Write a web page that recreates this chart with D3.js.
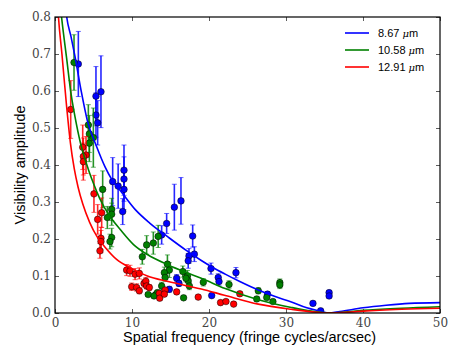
<!DOCTYPE html>
<html>
<head>
<meta http-equiv="Content-Type" content="text/html; charset=utf-8" />
<script src="https://cdn.jsdelivr.net/npm/d3@7"></script>
<title>Visibility</title>
<style>
  body { margin: 0; background: #fff; }
  .tick line { stroke: #333; stroke-width: 0.8; }
  .domain { display: none; }
</style>
</head>
<body>
<svg width="463" height="348" id="mainsvg"></svg>
<script>
// observed visibilities: [freq, vis, err]
const blueData = [
  [3.03,0.673,0.088],[5.32,0.586,0.08],[5.32,0.535,0.06],[5.54,0.514,0.06],[5.97,0.598,0.097],
  [7.49,0.355,0.065],[8.2,0.343,0.06],[8.96,0.386,0.068],[8.96,0.362,0.06],[8.96,0.334,0.055],
  [8.79,0.274,0.035],[13.85,0.211,0.025],[14.5,0.242,0.027],[15.5,0.286,0.062],[16.36,0.303,0.063],
  [17.88,0.208,0.03],[18.1,0.159,0.02],[17.4,0.154,0.02],[17.3,0.141,0.02],[15.8,0.094,0.01],
  [16.1,0.08,0.008],[14.85,0.064,0.008],[20.26,0.12,0.015],[21.2,0.096,0.01],[21.3,0.085,0.01],
  [20.35,0.047,0.006],[23.5,0.109,0.014],[27.6,0.051,0.006],[33.5,0.026,0.004],[35.6,0.055,0.005],
  [35.6,0.046,0.005],[34.5,0.006,0.003]
];
const greenData = [
  [2.47,0.677,0.075],[4.33,0.508,0.055],[4.46,0.484,0.05],[4.46,0.459,0.05],[4.98,0.474,0.08],
  [6.19,0.334,0.05],[7.36,0.28,0.03],[7.36,0.267,0.03],[6.8,0.258,0.03],[7.36,0.204,0.025],
  [7.14,0.193,0.02],[11.34,0.152,0.02],[11.9,0.184,0.025],[12.77,0.189,0.03],[13.4,0.207,0.03],
  [14.6,0.132,0.025],[14.85,0.116,0.02],[14.2,0.109,0.015],[14.3,0.096,0.01],[13.85,0.073,0.01],
  [16.6,0.112,0.015],[17.2,0.1,0.015],[17.3,0.087,0.012],[17.45,0.073,0.01],[17.0,0.094,0.01],
  [19.26,0.083,0.01],[16.7,0.041,0.005],[13.1,0.05,0.005],[12.1,0.05,0.005],[13.3,0.055,0.005],
  [12.86,0.046,0.005],[22.6,0.077,0.01],[26.4,0.06,0.008],[26.2,0.038,0.006],[27.5,0.042,0.006],
  [28.3,0.031,0.005],[29.2,0.082,0.01],[29.2,0.076,0.01]
];
const redData = [
  [2.04,0.55,0.078],[3.6,0.448,0.06],[4.03,0.427,0.05],[3.68,0.423,0.05],[3.68,0.409,0.05],
  [5.06,0.322,0.05],[5.54,0.253,0.04],[6.06,0.271,0.04],[5.97,0.202,0.03],[5.97,0.193,0.03],
  [5.84,0.168,0.02],[9.3,0.116,0.015],[9.74,0.114,0.015],[10.4,0.105,0.015],[10.95,0.107,0.015],
  [9.96,0.071,0.01],[10.6,0.069,0.01],[10.95,0.06,0.008],[11.56,0.08,0.01],[11.8,0.086,0.01],
  [11.9,0.073,0.008],[12.25,0.069,0.008],[13.55,0.053,0.006],[13.6,0.04,0.005],[14.3,0.062,0.006],
  [14.2,0.051,0.005],[15.8,0.057,0.006],[18.6,0.043,0.005],[21.5,0.028,0.004],[22.2,0.031,0.004],
  [23.2,0.024,0.004],[24.0,0.052,0.006]
];

// model curves: [freq, vis]
const blueCurve = [
  [1.3,0.84],[1.52,0.8],[2.1,0.745],[2.6,0.693],[3.4,0.6],[4.2,0.52],[5.4,0.45],[6.5,0.395],
  [7.4,0.36],[8.7,0.325],[10.4,0.28],[12.3,0.243],[14.7,0.205],[17,0.17],[19,0.142],[20.5,0.123],
  [22.1,0.105],[24,0.085],[26.4,0.062],[28.5,0.045],[30.7,0.03],[32.7,0.014],[34.2,0.006],[35.5,0],
  [37,0.004],[40,0.014],[43,0.021],[46,0.026],[50,0.028]
];
const greenCurve = [
  [0.6,0.85],[0.85,0.8],[1.5,0.69],[2.1,0.59],[2.6,0.53],[3.3,0.46],[4.3,0.39],[5.0,0.35],
  [5.8,0.31],[7.1,0.262],[8.5,0.225],[10.2,0.185],[12,0.158],[14.7,0.13],[17,0.11],[19,0.094],
  [22.1,0.066],[26.4,0.036],[30.7,0.015],[33.3,0.005],[35.5,0],[38,0.003],[40,0.007],[45,0.013],[50,0.017]
];
const redCurve = [
  [0.3,0.85],[0.45,0.8],[0.9,0.7],[1.5,0.56],[2.0,0.46],[2.5,0.39],[3.0,0.34],[3.6,0.295],
  [4.5,0.245],[5.5,0.205],[6.5,0.178],[8,0.145],[10,0.12],[12,0.1],[14.7,0.085],[17,0.074],
  [19,0.065],[22,0.048],[26.4,0.024],[30.7,0.01],[34,0.002],[35.5,0],[38,0.002],[40,0.005],
  [45,0.01],[50,0.013]
];

const xTicks = [0, 10, 20, 30, 40, 50];
const yTicks = [0, 0.1, 0.2, 0.3, 0.4, 0.5, 0.6, 0.7, 0.8];
const labels = ["8.67", "10.58", "12.91"];
const colors = ["#0000ff", "#008000", "#ff0000"];

const svg = d3.select("#mainsvg");
const margin = {left: 55, right: 23, top: 17, bottom: 35};
const width = +svg.attr("width"), height = +svg.attr("height");
const x = d3.scaleLinear().domain([0, 50]).range([margin.left, width - margin.right]);
const y = d3.scaleLinear().domain([0, 0.8]).range([height - margin.bottom, margin.top]);

svg.append("defs").append("clipPath").attr("id", "clip")
  .append("rect")
  .attr("x", x(0)).attr("y", y(0.8))
  .attr("width", x(50) - x(0)).attr("height", y(0) - y(0.8));

const serif = "'DejaVu Serif', 'Liberation Serif', serif";
const sans = "'Liberation Sans', Arial, sans-serif";

// axes with inward ticks on all sides
svg.append("g").attr("transform", `translate(0,${y(0)})`)
  .call(d3.axisBottom(x).tickValues(xTicks).tickSize(-4).tickPadding(5).tickFormat(d3.format("d")));
svg.append("g").attr("transform", `translate(0,${y(0.8)})`)
  .call(d3.axisTop(x).tickValues(xTicks).tickSize(-4).tickFormat(""));
svg.append("g").attr("transform", `translate(${x(0)},0)`)
  .call(d3.axisLeft(y).tickValues(yTicks).tickSize(-4).tickPadding(4).tickFormat(d3.format(".1f")));
svg.append("g").attr("transform", `translate(${x(50)},0)`)
  .call(d3.axisRight(y).tickValues(yTicks).tickSize(-4).tickFormat(""));
svg.selectAll(".tick text")
  .style("font-family", serif).style("font-size", "12px").style("font-weight", "200")
  .attr("fill", "#444");

const plot = svg.append("g").attr("clip-path", "url(#clip)");
const series = [blueData, greenData, redData];
const curves = [blueCurve, greenCurve, redCurve];

series.forEach((data, i) => {
  const g = plot.append("g");
  g.selectAll(".eb").data(data).join("line")
    .attr("x1", d => x(d[0])).attr("x2", d => x(d[0]))
    .attr("y1", d => y(d[1] - d[2])).attr("y2", d => y(d[1] + d[2]))
    .attr("stroke", colors[i]).attr("stroke-width", 1.6).attr("stroke-opacity", 0.85);
  [-1, 1].forEach(s => {
    g.selectAll(".cap" + s).data(data).join("line")
      .attr("x1", d => x(d[0]) - 2.5).attr("x2", d => x(d[0]) + 2.5)
      .attr("y1", d => y(d[1] + s * d[2])).attr("y2", d => y(d[1] + s * d[2]))
      .attr("stroke", colors[i]).attr("stroke-width", 1).attr("stroke-opacity", 0.6);
  });
  g.selectAll("circle").data(data).join("circle")
    .attr("cx", d => x(d[0])).attr("cy", d => y(d[1])).attr("r", 3.3)
    .attr("fill", colors[i]).attr("stroke", "#000").attr("stroke-width", 0.5);
});

const line = d3.line().x(d => x(d[0])).y(d => y(d[1])).curve(d3.curveMonotoneX);
curves.forEach((c, i) => {
  plot.append("path").datum(c).attr("d", line)
    .attr("fill", "none").attr("stroke", colors[i]).attr("stroke-width", 1.6);
});

// frame
svg.append("rect")
  .attr("x", x(0)).attr("y", y(0.8))
  .attr("width", x(50) - x(0)).attr("height", y(0) - y(0.8))
  .attr("fill", "none").attr("stroke", "#000").attr("stroke-width", 1.2);

// legend
const leg = svg.append("g").attr("transform", "translate(345,33)");
labels.forEach((lab, i) => {
  leg.append("line").attr("x1", 0).attr("x2", 24).attr("y1", i * 17).attr("y2", i * 17)
    .attr("stroke", colors[i]).attr("stroke-width", 1.6);
  const t = leg.append("text").attr("x", 33).attr("y", i * 17 + 4)
    .style("font-family", sans).style("font-size", "11px");
  t.append("tspan").text(lab + " ");
  t.append("tspan").text("\u03bc").style("font-style", "italic").style("font-family", "'DejaVu Serif', serif").style("font-size", "10px");
  t.append("tspan").text("m");
});

// axis titles
svg.append("text").attr("x", (x(0) + x(50)) / 2 + 2).attr("y", 342)
  .attr("text-anchor", "middle")
  .style("font-family", sans).style("font-size", "14.5px")
  .text("Spatial frequency (fringe cycles/arcsec)");
svg.append("text").attr("transform", `translate(25,${(y(0) + y(0.8)) / 2}) rotate(-90)`)
  .attr("text-anchor", "middle")
  .style("font-family", sans).style("font-size", "14.5px")
  .text("Visibility amplitude");
</script>
</body>
</html>
